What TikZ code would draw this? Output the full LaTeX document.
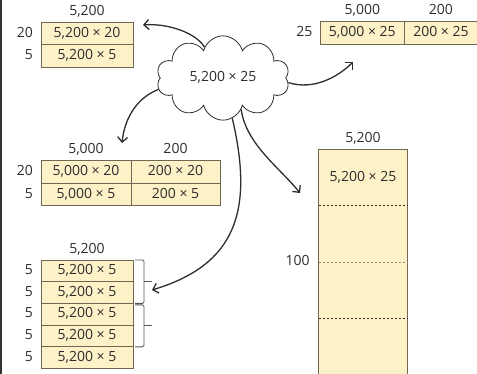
\documentclass[tikz,border=0pt]{standalone}
\usepackage{fontspec}
\setmainfont{Open Sans}
\usetikzlibrary{shapes.symbols, arrows.meta, positioning, calc}
\definecolor{cellfill}{RGB}{253,241,199}
\definecolor{celledge}{RGB}{112,102,82}
\definecolor{ink}{RGB}{45,45,45}

\begin{document}
\begin{tikzpicture}[x=1pt,y=-1pt,every node/.style={text=ink,font=\fontsize{14}{16}\selectfont,text height=10pt,text depth=2.7pt}]

\tikzstyle{cell}=[draw=celledge,fill=cellfill,line width=0.9pt,minimum height=22.6pt,inner sep=0pt,outer sep=0pt]
\tikzstyle{lbl}=[inner sep=0pt]
\tikzstyle{link}=[-{Straight Barb[length=5pt,width=10pt]},line width=1.3pt,draw=ink]
\tikzstyle{brace}=[line width=0.9pt,draw=ink!80,rounded corners=1.5pt]

\useasboundingbox (0,0) rectangle (477,374);
\draw[line width=2.4pt,black!80] (1.2,0) -- (1.2,374);

% cloud
\node[cloud, draw=ink, line width=0.8pt, cloud puffs=10, aspect=1.45, minimum width=133pt, minimum height=84pt, inner sep=0pt] (cloud) at (223,78) {5,200 × 25};

% top left: 20 + 5
\node[cell, minimum width=92pt] (tl1) at (87,33.5) {5,200 × 20};
\node[cell, minimum width=92pt, below=0pt of tl1] (tl2) {5,200 × 5};
\node[lbl, above=4pt of tl1] (tlTop) {5,200};
\node[lbl, left=8pt of tl1] (tlA) {20};
\node[lbl, left=8pt of tl2] (tlB) {5};

% top right: 5000 + 200
\node[cell, minimum width=83.3pt] (tr1) at (362.3,33) {5,000 × 25};
\node[cell, minimum width=74pt, right=0pt of tr1] (tr2) {200 × 25};
\node[lbl, above=4pt of tr1] (trTopA) {5,000};
\node[lbl, above=4pt of tr2] (trTopB) {200};
\node[lbl, left=8pt of tr1] (trA) {25};

% middle left: 2 x 2
\node[cell, minimum width=90pt] (m11) at (86,172) {5,000 × 20};
\node[cell, minimum width=89pt, right=0pt of m11] (m12) {200 × 20};
\node[cell, minimum width=90pt, below=0pt of m11] (m21) {5,000 × 5};
\node[cell, minimum width=89pt, below=0pt of m12] (m22) {200 × 5};
\node[lbl, above=4pt of m11] (mTopA) {5,000};
\node[lbl, above=4pt of m12] (mTopB) {200};
\node[lbl, left=8pt of m11] (mA) {20};
\node[lbl, left=8pt of m21] (mB) {5};

% bottom left: five rows of 5
\foreach \i in {1,...,5}{
  \node[cell, minimum width=92pt, minimum height=21.7pt] (b\i) at (87,249.2+21.7*\i) {5,200 × 5};
  \node[lbl, left=8pt of b\i] (bl\i) {5};
}
\node[lbl, above=4pt of b1] (bTop) {5,200};

\draw[brace] ([xshift=2pt]b1.north east) -| ([xshift=11pt]b2.south east) -- ([xshift=2pt]b2.south east);
\draw[brace] ([xshift=11pt]b1.south east) -- ++(8,0);
\draw[brace] ([xshift=2pt,yshift=-1.5pt]b3.north east) -| ([xshift=11pt]b4.south east) -- ([xshift=2pt]b4.south east);
\draw[brace] ([xshift=11pt]b3.south east) -- ++(8,0);

% right: tall 5200 x 100
\node[cell, minimum width=88.3pt, minimum height=226pt, anchor=north] (tall) at (363,149.3) {};
\node[lbl, above=4pt of tall] (tallTop) {5,200};
\node[lbl] (tallTxt) at ($(tall.north)!0.125!(tall.south)$) {5,200 × 25};
\node[lbl, left=9pt of tall] (tallA) {100};
\foreach \k/\c in {1/ink,2/celledge!80,3/ink}
  \draw[\c, line width=0.9pt, dash pattern=on 2.5pt off 1.5pt] ($(tall.north west)!\k/4!(tall.south west)$) -- ($(tall.north east)!\k/4!(tall.south east)$);

% arrows out of the cloud
\coordinate (e1) at (143,25);
\coordinate (e2) at (353,62);
\coordinate (e3) at (122,143);
\coordinate (e4) at (152,290);
\coordinate (e5) at (300,193);
\draw[link] (cloud.121) .. controls +(-8,-14) and +(25,-2) .. (e1);
\draw[link] (cloud.356) .. controls +(25,8) and +(-15,15) .. (e2);
\draw[link] (cloud.190) .. controls +(-25,10) and +(2,-20) .. (e3);
\draw[link] (cloud.283) .. controls +(22,94) and +(83,-25) .. (e4);
\draw[link] (cloud.300) .. controls +(5,35) and +(-20,-25) .. (e5);

\end{tikzpicture}
\end{document}
